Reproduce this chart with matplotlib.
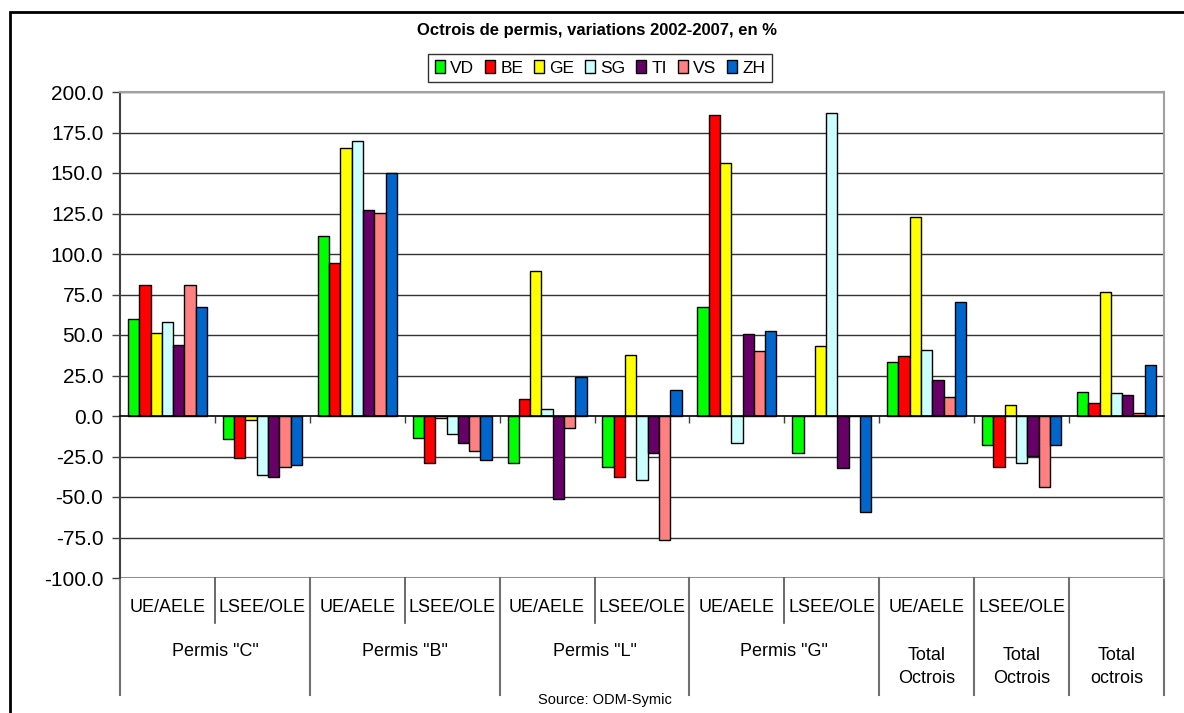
import matplotlib.pyplot as plt
import matplotlib.patches as patches
import matplotlib.transforms as mtransforms
from matplotlib.patches import Patch
import numpy as np

plt.rcParams['font.family'] = ['Liberation Sans', 'DejaVu Sans']

# data
cantons = ['VD', 'BE', 'GE', 'SG', 'TI', 'VS', 'ZH']
colors = ['#00FF00', '#FF0000', '#FFFF00', '#CCFFFF', '#660066', '#FF8080', '#0066CC']
sub_labels = ['UE/AELE', 'LSEE/OLE', 'UE/AELE', 'LSEE/OLE', 'UE/AELE', 'LSEE/OLE',
              'UE/AELE', 'LSEE/OLE', 'UE/AELE', 'LSEE/OLE', '']
group_labels = ['Permis "C"', 'Permis "B"', 'Permis "L"', 'Permis "G"']
total_labels = ['Total\nOctrois', 'Total\nOctrois', 'Total\noctrois']

VD = [59.9, -14.4, 111.4, -13.3, -29.1, -31.2, 67.3, -23.0, 33.6, -17.6, 14.8]
BE = [80.8, -26.0, 94.6, -29.1, 10.7, -37.5, 185.8, 0.0, 36.9, -31.4, 7.8]
GE = [51.3, -2.7, 165.7, -1.4, 89.2, 37.9, 156.3, 43.1, 122.9, 6.6, 76.7]
SG = [57.8, -36.5, 169.8, -11.3, 4.1, -39.6, -16.4, 186.9, 41.0, -29.1, 13.9]
TI = [44.1, -37.5, 127.2, -16.6, -51.3, -23.0, 50.5, -32.2, 22.2, -24.8, 12.9]
VS = [80.8, -31.2, 125.1, -21.5, -7.2, -76.3, 40.0, 0.0, 11.7, -43.7, 1.6]
ZH = [67.3, -30.2, 149.9, -26.9, 24.2, 15.8, 52.7, -59.5, 70.6, -17.6, 31.6]
series = [VD, BE, GE, SG, TI, VS, ZH]

W, H = 1184, 713


def fy(px):
    return 1 - px / H


fig = plt.figure(figsize=(W / 100, H / 100), dpi=100)
ax = fig.add_axes([120 / W, fy(578), (1164 - 120) / W, (578 - 92) / H])

x = np.arange(len(sub_labels))
bw = 0.119
for i, (vals, c) in enumerate(zip(series, colors)):
    ax.bar(x + (i - 3) * bw, vals, bw, color=c, edgecolor='black', linewidth=1.0, zorder=3)

ax.set_xlim(-0.5, len(sub_labels) - 0.5)
ax.set_ylim(-100, 200)
yt = np.arange(-100, 201, 25)
ax.set_yticks(yt)
ax.set_yticklabels(['%.1f' % v for v in yt], fontsize=15)
ax.tick_params(axis='y', direction='out', length=6, width=1, color='#404040', pad=6)
for v in yt[1:]:
    if v != 0:
        ax.axhline(v, color='#333333', lw=1, zorder=1)
ax.axhline(-100, color='#909090', lw=1.5, zorder=1)

ax.spines['top'].set_color('#a0a0a0')
ax.spines['right'].set_color('#a0a0a0')
ax.spines['top'].set_linewidth(1.5)
ax.spines['right'].set_linewidth(1.5)
ax.spines['left'].set_color('#404040')
ax.spines['left'].set_linewidth(1.5)
ax.spines['bottom'].set_position(('data', 0))
ax.spines['bottom'].set_color('black')
ax.spines['bottom'].set_linewidth(1.2)
ax.spines['bottom'].set_zorder(4)
ax.set_xticks(x[:-1] + 0.5)
ax.set_xticklabels([])
ax.tick_params(axis='x', direction='out', length=5, width=1, color='#404040')

# category table below the plot
tr = mtransforms.blended_transform_factory(ax.transData, fig.transFigure)
long_b = [-0.5, 1.5, 3.5, 5.5, 7.5, 8.5, 9.5, 10.5]
short_b = [0.5, 2.5, 4.5, 6.5]
for b in long_b:
    ax.plot([b, b], [fy(578), fy(695)], transform=tr, color='#707070', lw=1.5, clip_on=False)
for b in short_b:
    ax.plot([b, b], [fy(578), fy(623)], transform=tr, color='#505050', lw=1.2, clip_on=False)

for xi, lab in zip(x, sub_labels):
    ax.text(xi, fy(608), lab, transform=tr, ha='center', va='center', fontsize=13)
for k, lab in enumerate(group_labels):
    ax.text(2 * k + 0.5, fy(652), lab, transform=tr, ha='center', va='center', fontsize=13)
for k, lab in enumerate(total_labels):
    ax.text(8 + k, fy(667), lab, transform=tr, ha='center', va='center', fontsize=13,
            linespacing=1.5)

fig.text(605 / W, fy(700), 'Source: ODM-Symic', ha='center', va='center', fontsize=10.5)
fig.text(597 / W, fy(30), 'Octrois de permis, variations 2002-2007, en %', ha='center',
         va='center', fontsize=12, fontweight='bold')

handles = [Patch(facecolor=c, edgecolor='black', linewidth=1) for c in colors]
leg = fig.legend(handles, cantons, loc='center', bbox_to_anchor=(600 / W, fy(68)), ncol=7,
                 fontsize=12.5, frameon=True, fancybox=False, edgecolor='black',
                 handlelength=0.6, handleheight=0.8, handletextpad=0.3, columnspacing=0.6,
                 borderpad=0.35)
leg.get_frame().set_linewidth(1)

# outer chart frame
fig.patches.append(patches.Rectangle((10 / W, -0.1), 1.2, fy(12) + 0.1, transform=fig.transFigure,
                                     fill=False, edgecolor='black', linewidth=2))

fig.savefig('out.png', dpi=100)
